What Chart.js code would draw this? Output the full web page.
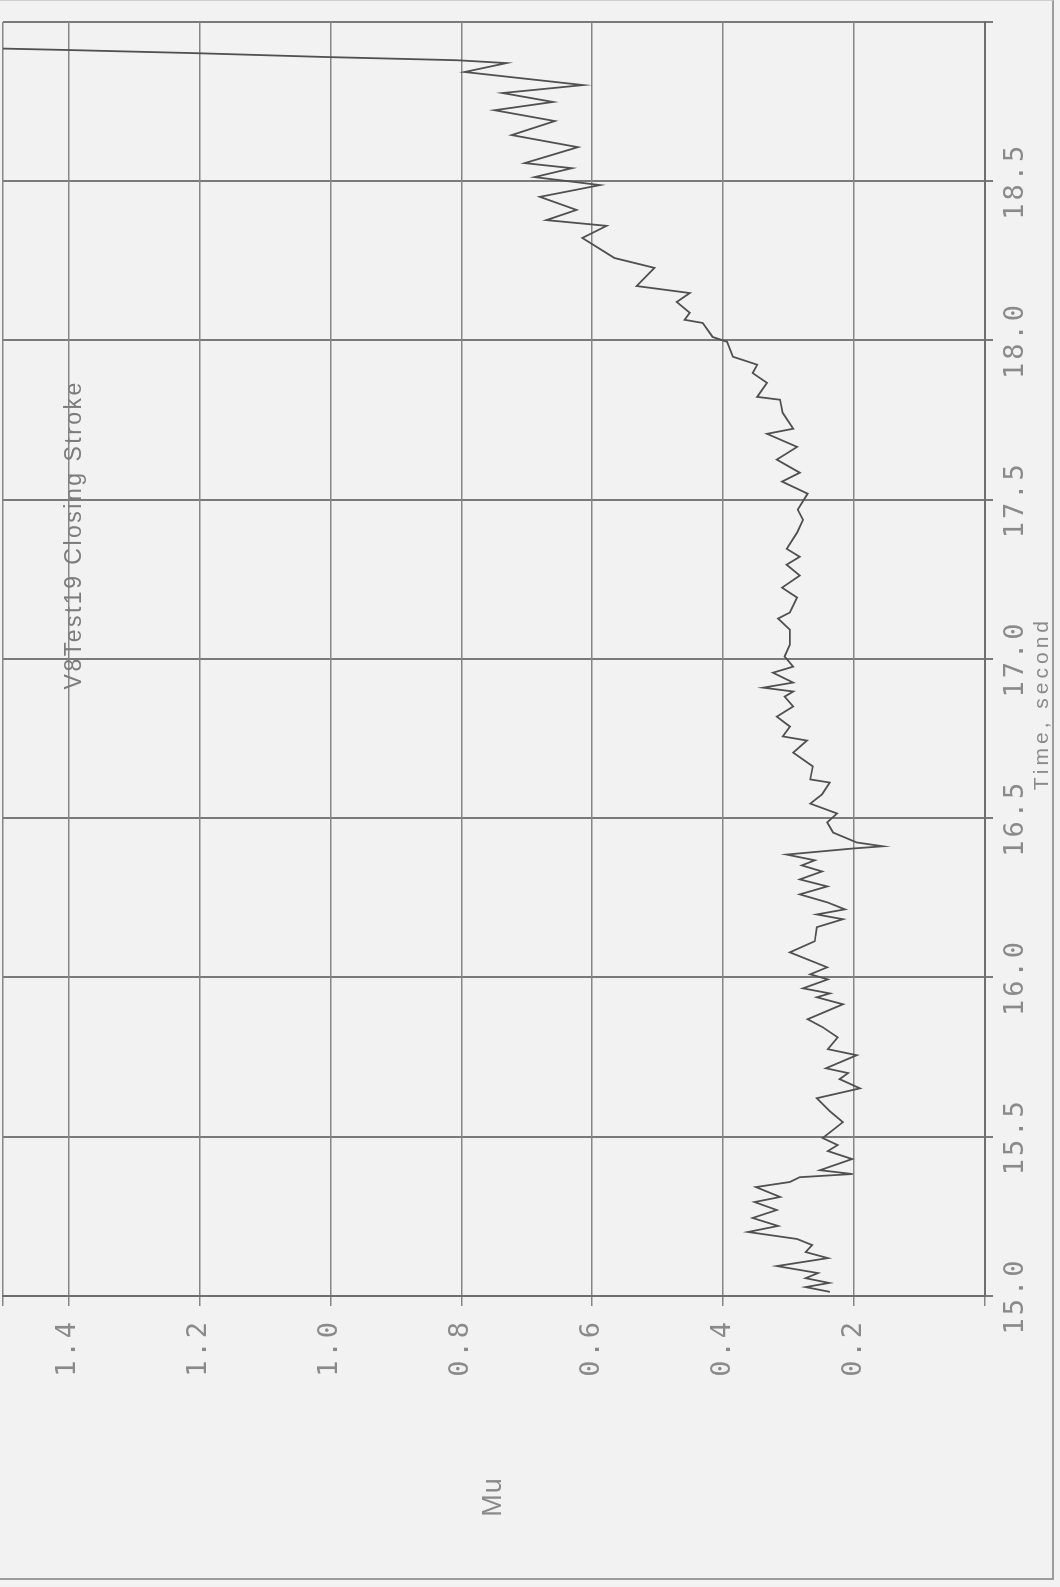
<!DOCTYPE html>
<html>
<head>
<meta charset="utf-8">
<script src="https://cdn.jsdelivr.net/npm/chart.js@4.4.1/dist/chart.umd.min.js"></script>
<style>
  html, body { margin:0; padding:0; background:#f2f2f2; width:1060px; height:1587px; overflow:hidden; }
  #frame { position:absolute; left:0; top:0; width:1054px; height:1580px; box-sizing:border-box;
           border-right:2px solid #9c9c9c; border-bottom:2px solid #9c9c9c; border-top:1px solid #cfcfcf; }
  #wrap { position:absolute; left:0; top:0; width:1587px; height:1060px;
          transform-origin:0 0; transform:translate(0px,1587px) rotate(-90deg); }
  canvas { display:block; }
</style>
</head>
<body>
<div id="frame"></div>
<div id="wrap"><canvas id="c" width="1587" height="1060"></canvas></div>
<script>
// ---- data (time in seconds, friction coefficient Mu) ----
const time = [
 15.013,15.028,15.041,15.056,15.072,15.094,15.119,15.138,15.160,15.179,
 15.201,15.220,15.245,15.270,15.295,15.311,15.342,15.358,15.373,15.383,
 15.395,15.430,15.455,15.474,15.496,15.546,15.580,15.621,15.652,15.681,
 15.700,15.715,15.756,15.775,15.812,15.844,15.869,15.916,15.938,15.950,
 15.966,15.994,16.010,16.032,16.079,16.114,16.158,16.183,16.198,16.214,
 16.236,16.261,16.286,16.308,16.333,16.352,16.368,16.386,16.405,16.412,
 16.424,16.455,16.487,16.515,16.546,16.575,16.612,16.622,16.663,16.706,
 16.744,16.757,16.788,16.819,16.851,16.882,16.898,16.910,16.926,16.957,
 16.976,17.008,17.045,17.092,17.127,17.146,17.193,17.224,17.262,17.296,
 17.321,17.346,17.397,17.437,17.469,17.519,17.557,17.585,17.626,17.666,
 17.707,17.723,17.773,17.814,17.823,17.867,17.898,17.924,17.949,17.996,
 18.011,18.055,18.065,18.087,18.121,18.149,18.171,18.228,18.259,18.322,
 18.360,18.378,18.410,18.451,18.488,18.513,18.541,18.557,18.607,18.645,
 18.689,18.723,18.749,18.777,18.802,18.843,18.871,18.880,18.890,18.902,
 18.912,18.921
];
const mu = [
 0.237,0.274,0.238,0.274,0.255,0.318,0.240,0.274,0.264,0.287,
 0.362,0.316,0.355,0.318,0.352,0.313,0.350,0.298,0.283,0.202,
 0.252,0.203,0.240,0.225,0.248,0.217,0.237,0.257,0.191,0.222,
 0.209,0.243,0.196,0.240,0.225,0.248,0.271,0.217,0.257,0.237,
 0.278,0.240,0.267,0.241,0.298,0.260,0.257,0.217,0.257,0.214,
 0.241,0.283,0.241,0.283,0.249,0.280,0.260,0.303,0.202,0.156,
 0.196,0.232,0.241,0.226,0.267,0.249,0.237,0.267,0.263,0.293,
 0.272,0.309,0.298,0.318,0.293,0.306,0.293,0.339,0.293,0.324,
 0.293,0.306,0.298,0.298,0.316,0.298,0.287,0.310,0.283,0.303,
 0.283,0.303,0.287,0.278,0.286,0.271,0.310,0.283,0.318,0.287,
 0.333,0.293,0.309,0.313,0.348,0.333,0.355,0.348,0.385,0.394,
 0.416,0.431,0.459,0.451,0.471,0.451,0.532,0.505,0.566,0.615,
 0.578,0.670,0.624,0.680,0.588,0.688,0.631,0.703,0.622,0.723,
 0.657,0.749,0.660,0.737,0.614,0.795,0.731,0.807,1.006,1.203,
 1.400,1.597
];
const xTicks = [15, 15.5, 16, 16.5, 17, 17.5, 18, 18.5, 19];
const xTickLabels = ['15.0','15.5','16.0','16.5','17.0','17.5','18.0','18.5',''];
const yTicks = [0, 0.2, 0.4, 0.6, 0.8, 1.0, 1.2, 1.4, 1.5];
const yTickLabels = ['','0.2','0.4','0.6','0.8','1.0','1.2','1.4',''];
const chartTitle = 'V8Test19 Closing Stroke';
const xTitle = 'Time, second';
const yTitle = 'Mu';

// ---- styling / placement ----
const TEXT = '#8a8a8a';
const titleAt = { t: 17.39, m: 1.39 };
const xTitleAt = 16.86;

const spacingPlugin = {
  id: 'spacing',
  beforeDraw(chart) { chart.ctx.letterSpacing = '3px'; }
};
const textPlugin = {
  id: 'texts',
  afterDraw(chart) {
    const { ctx, chartArea: a, scales: { x, y } } = chart;
    ctx.save();
    ctx.fillStyle = '#7c7c7c';
    ctx.textAlign = 'center';
    ctx.textBaseline = 'middle';
    ctx.letterSpacing = '2.5px';
    ctx.font = '23px "Liberation Sans"';
    ctx.fillText(chartTitle, x.getPixelForValue(titleAt.t), y.getPixelForValue(titleAt.m));
    ctx.fillStyle = TEXT;
    ctx.letterSpacing = '4px';
    ctx.font = '21px "Liberation Sans"';
    ctx.fillText(xTitle, x.getPixelForValue(xTitleAt), a.bottom + 57);
    ctx.letterSpacing = '1px';
    ctx.font = '27px "Liberation Sans"';
    ctx.fillText(yTitle, a.left - 201, (a.top + a.bottom) / 2);
    ctx.restore();
  }
};

new Chart(document.getElementById('c'), {
  type: 'line',
  data: {
    datasets: [{
      data: time.map((t, i) => ({ x: t, y: mu[i] })),
      borderColor: '#505050',
      borderWidth: 1.8,
      pointRadius: 0,
      tension: 0,
      fill: false,
      clip: 0
    }]
  },
  options: {
    responsive: false,
    animation: false,
    devicePixelRatio: 1,
    layout: { padding: { left: 0, right: 22, top: 3, bottom: 0 } },
    plugins: { legend: { display: false }, tooltip: { enabled: false } },
    scales: {
      x: {
        type: 'linear', min: 15, max: 19,
        afterBuildTicks: s => { s.ticks = xTicks.map(v => ({ value: v })); },
        afterFit: s => { s.height = 75; s.paddingLeft = 0; s.paddingRight = 0; },
        grid: { color: '#7a7a7a', lineWidth: 2, tickLength: 8 },
        border: { color: '#6e6e6e', width: 2 },
        ticks: {
          autoSkip: false, maxRotation: 0, padding: 7, color: TEXT,
          font: { family: '"DejaVu Sans Mono"', size: 27 },
          callback: (v, i) => xTickLabels[i]
        }
      },
      y: {
        min: 0, max: 1.5,
        afterBuildTicks: s => { s.ticks = yTicks.map(v => ({ value: v })); },
        afterFit: s => { s.width = 291; s.paddingTop = 0; s.paddingBottom = 0; },
        grid: { color: '#868686', lineWidth: 1.5, tickLength: 10 },
        border: { color: '#6e6e6e', width: 2 },
        ticks: {
          autoSkip: false, padding: 13, color: TEXT,
          font: { family: '"DejaVu Sans Mono"', size: 27 },
          callback: (v, i) => yTickLabels[i]
        }
      }
    }
  },
  plugins: [spacingPlugin, textPlugin]
});
</script>
</body>
</html>
